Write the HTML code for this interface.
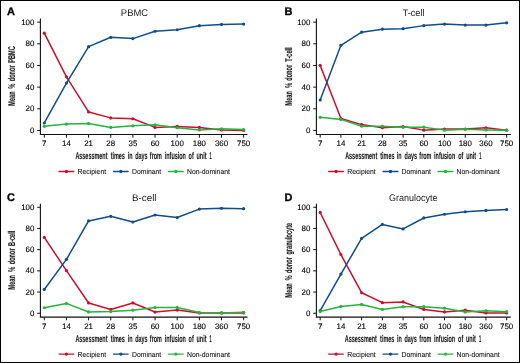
<!DOCTYPE html>
<html><head><meta charset="utf-8"><style>
html,body{margin:0;padding:0;background:#fff;}
body{width:520px;height:363px;overflow:hidden;}
svg{display:block;will-change:transform;}
text{font-family:"Liberation Sans",sans-serif;fill:#1a1a1a;text-rendering:geometricPrecision;}
.lt{font-weight:bold;font-size:11px;fill:#000;stroke:#000;stroke-width:0.3px;}
.ti{font-size:9.6px;}
.tl{font-size:7.9px;fill:#000;stroke:#000;stroke-width:0.12px;}
.at{font-size:9.8px;font-weight:bold;stroke:#1a1a1a;stroke-width:0.12px;}
.lg{font-size:7.3px;fill:#111;stroke:#111;stroke-width:0.08px;}
.ax{fill:none;stroke:#111;stroke-width:1.1;}
.tk{fill:none;stroke:#111;stroke-width:1;}
</style></head><body>
<svg width="520" height="363" viewBox="0 0 520 363">
<rect x="0.5" y="0.5" width="519" height="362" fill="#fff" stroke="#000" stroke-width="1"/>
<text x="7" y="15" class="lt">A</text>
<text x="134.5" y="15.65" class="ti" text-anchor="middle" textLength="27.3" lengthAdjust="spacingAndGlyphs">PBMC</text>
<path d="M40.4 18.4V134.5H247.5" class="ax"/>
<path d="M37.2 130.45H40.4" class="tk"/>
<text x="34.3" y="132.95" class="tl" text-anchor="end">0</text>
<path d="M37.2 108.79H40.4" class="tk"/>
<text x="34.3" y="111.29" class="tl" text-anchor="end">20</text>
<path d="M37.2 87.13H40.4" class="tk"/>
<text x="34.3" y="89.63" class="tl" text-anchor="end">40</text>
<path d="M37.2 65.47H40.4" class="tk"/>
<text x="34.3" y="67.97" class="tl" text-anchor="end">60</text>
<path d="M37.2 43.81H40.4" class="tk"/>
<text x="34.3" y="46.31" class="tl" text-anchor="end">80</text>
<path d="M37.2 22.15H40.4" class="tk"/>
<text x="34.3" y="24.65" class="tl" text-anchor="end">100</text>
<path d="M44.3 134.5V137.7" class="tk"/>
<text x="44.3" y="146.2" class="tl" text-anchor="middle">7</text>
<path d="M66.45 134.5V137.7" class="tk"/>
<text x="66.45" y="146.2" class="tl" text-anchor="middle">14</text>
<path d="M88.6 134.5V137.7" class="tk"/>
<text x="88.6" y="146.2" class="tl" text-anchor="middle">21</text>
<path d="M110.75 134.5V137.7" class="tk"/>
<text x="110.75" y="146.2" class="tl" text-anchor="middle">28</text>
<path d="M132.9 134.5V137.7" class="tk"/>
<text x="132.9" y="146.2" class="tl" text-anchor="middle">35</text>
<path d="M155.05 134.5V137.7" class="tk"/>
<text x="155.05" y="146.2" class="tl" text-anchor="middle">60</text>
<path d="M177.2 134.5V137.7" class="tk"/>
<text x="177.2" y="146.2" class="tl" text-anchor="middle">100</text>
<path d="M199.35 134.5V137.7" class="tk"/>
<text x="199.35" y="146.2" class="tl" text-anchor="middle">180</text>
<path d="M221.5 134.5V137.7" class="tk"/>
<text x="221.5" y="146.2" class="tl" text-anchor="middle">360</text>
<path d="M243.65 134.5V137.7" class="tk"/>
<text x="243.65" y="146.2" class="tl" text-anchor="middle">750</text>
<text x="91.43" y="159.1" class="at" text-anchor="middle" textLength="32.05" lengthAdjust="spacingAndGlyphs">Assessment</text>
<text x="117.77" y="159.1" class="at" text-anchor="middle" textLength="14.21" lengthAdjust="spacingAndGlyphs">times</text>
<text x="130.07" y="159.1" class="at" text-anchor="middle" textLength="4.83" lengthAdjust="spacingAndGlyphs">in</text>
<text x="141.41" y="159.1" class="at" text-anchor="middle" textLength="12.4" lengthAdjust="spacingAndGlyphs">days</text>
<text x="155.9" y="159.1" class="at" text-anchor="middle" textLength="12.09" lengthAdjust="spacingAndGlyphs">from</text>
<text x="175.33" y="159.1" class="at" text-anchor="middle" textLength="21.15" lengthAdjust="spacingAndGlyphs">infusion</text>
<text x="191.17" y="159.1" class="at" text-anchor="middle" textLength="5.13" lengthAdjust="spacingAndGlyphs">of</text>
<text x="201.5" y="159.1" class="at" text-anchor="middle" textLength="9.97" lengthAdjust="spacingAndGlyphs">unit</text>
<text x="210.71" y="159.1" class="at" text-anchor="middle" textLength="2.18" lengthAdjust="spacingAndGlyphs">1</text>
<text transform="translate(15 98.55) rotate(-90)" class="at" text-anchor="middle" textLength="14.28" lengthAdjust="spacingAndGlyphs">Mean</text>
<text transform="translate(15 85.94) rotate(-90)" class="at" text-anchor="middle" textLength="4.97" lengthAdjust="spacingAndGlyphs">%</text>
<text transform="translate(15 73.36) rotate(-90)" class="at" text-anchor="middle" textLength="15.82" lengthAdjust="spacingAndGlyphs">donor</text>
<text transform="translate(15 54.5) rotate(-90)" class="at" text-anchor="middle" textLength="16.45" lengthAdjust="spacingAndGlyphs">PBMC</text>
<polyline points="44.3,33.2 66.45,76.84 88.6,111.93 110.75,117.89 132.9,118.75 155.05,127.42 177.2,126.44 199.35,127.42 221.5,130.02 243.65,130.45" fill="none" stroke="#c8102e" stroke-width="1.5" stroke-linejoin="round"/>
<circle cx="44.3" cy="33.2" r="1.6" fill="#c8102e"/>
<circle cx="66.45" cy="76.84" r="1.6" fill="#c8102e"/>
<circle cx="88.6" cy="111.93" r="1.6" fill="#c8102e"/>
<circle cx="110.75" cy="117.89" r="1.6" fill="#c8102e"/>
<circle cx="132.9" cy="118.75" r="1.6" fill="#c8102e"/>
<circle cx="155.05" cy="127.42" r="1.6" fill="#c8102e"/>
<circle cx="177.2" cy="126.44" r="1.6" fill="#c8102e"/>
<circle cx="199.35" cy="127.42" r="1.6" fill="#c8102e"/>
<circle cx="221.5" cy="130.02" r="1.6" fill="#c8102e"/>
<circle cx="243.65" cy="130.45" r="1.6" fill="#c8102e"/>
<polyline points="44.3,122.98 66.45,83.12 88.6,46.63 110.75,37.31 132.9,38.61 155.05,31.25 177.2,29.73 199.35,25.72 221.5,24.42 243.65,24.1" fill="none" stroke="#114d86" stroke-width="1.5" stroke-linejoin="round"/>
<circle cx="44.3" cy="122.98" r="1.6" fill="#114d86"/>
<circle cx="66.45" cy="83.12" r="1.6" fill="#114d86"/>
<circle cx="88.6" cy="46.63" r="1.6" fill="#114d86"/>
<circle cx="110.75" cy="37.31" r="1.6" fill="#114d86"/>
<circle cx="132.9" cy="38.61" r="1.6" fill="#114d86"/>
<circle cx="155.05" cy="31.25" r="1.6" fill="#114d86"/>
<circle cx="177.2" cy="29.73" r="1.6" fill="#114d86"/>
<circle cx="199.35" cy="25.72" r="1.6" fill="#114d86"/>
<circle cx="221.5" cy="24.42" r="1.6" fill="#114d86"/>
<circle cx="243.65" cy="24.1" r="1.6" fill="#114d86"/>
<polyline points="44.3,126.33 66.45,124.06 88.6,123.52 110.75,127.42 132.9,125.79 155.05,124.82 177.2,127.74 199.35,130.02 221.5,128.83 243.65,129.48" fill="none" stroke="#28b23e" stroke-width="1.5" stroke-linejoin="round"/>
<circle cx="44.3" cy="126.33" r="1.6" fill="#28b23e"/>
<circle cx="66.45" cy="124.06" r="1.6" fill="#28b23e"/>
<circle cx="88.6" cy="123.52" r="1.6" fill="#28b23e"/>
<circle cx="110.75" cy="127.42" r="1.6" fill="#28b23e"/>
<circle cx="132.9" cy="125.79" r="1.6" fill="#28b23e"/>
<circle cx="155.05" cy="124.82" r="1.6" fill="#28b23e"/>
<circle cx="177.2" cy="127.74" r="1.6" fill="#28b23e"/>
<circle cx="199.35" cy="130.02" r="1.6" fill="#28b23e"/>
<circle cx="221.5" cy="128.83" r="1.6" fill="#28b23e"/>
<circle cx="243.65" cy="129.48" r="1.6" fill="#28b23e"/>
<path d="M59.05 171.5H73.8" stroke="#c8102e" stroke-width="1.35" stroke-linecap="round"/>
<circle cx="66.45" cy="171.5" r="1.65" fill="#c8102e"/>
<text x="77.55" y="174.2" class="lg" textLength="28.56" lengthAdjust="spacingAndGlyphs">Recipient</text>
<path d="M113.45 171.5H128.2" stroke="#114d86" stroke-width="1.35" stroke-linecap="round"/>
<circle cx="120.85" cy="171.5" r="1.65" fill="#114d86"/>
<text x="131.95" y="174.2" class="lg" textLength="29.31" lengthAdjust="spacingAndGlyphs">Dominant</text>
<path d="M168.45 171.5H183.2" stroke="#28b23e" stroke-width="1.35" stroke-linecap="round"/>
<circle cx="175.85" cy="171.5" r="1.65" fill="#28b23e"/>
<text x="186.95" y="174.2" class="lg" textLength="43.02" lengthAdjust="spacingAndGlyphs">Non-dominant</text>
<text x="284.6" y="15" class="lt">B</text>
<text x="413.6" y="15.65" class="ti" text-anchor="middle" textLength="21.9" lengthAdjust="spacingAndGlyphs">T-cell</text>
<path d="M316.4 18.4V134.5H510.8" class="ax"/>
<path d="M313.2 130.45H316.4" class="tk"/>
<text x="310.3" y="132.95" class="tl" text-anchor="end">0</text>
<path d="M313.2 108.79H316.4" class="tk"/>
<text x="310.3" y="111.29" class="tl" text-anchor="end">20</text>
<path d="M313.2 87.13H316.4" class="tk"/>
<text x="310.3" y="89.63" class="tl" text-anchor="end">40</text>
<path d="M313.2 65.47H316.4" class="tk"/>
<text x="310.3" y="67.97" class="tl" text-anchor="end">60</text>
<path d="M313.2 43.81H316.4" class="tk"/>
<text x="310.3" y="46.31" class="tl" text-anchor="end">80</text>
<path d="M313.2 22.15H316.4" class="tk"/>
<text x="310.3" y="24.65" class="tl" text-anchor="end">100</text>
<path d="M320.2 134.5V137.7" class="tk"/>
<text x="320.2" y="146.2" class="tl" text-anchor="middle">7</text>
<path d="M340.92 134.5V137.7" class="tk"/>
<text x="340.92" y="146.2" class="tl" text-anchor="middle">14</text>
<path d="M361.64 134.5V137.7" class="tk"/>
<text x="361.64" y="146.2" class="tl" text-anchor="middle">21</text>
<path d="M382.36 134.5V137.7" class="tk"/>
<text x="382.36" y="146.2" class="tl" text-anchor="middle">28</text>
<path d="M403.08 134.5V137.7" class="tk"/>
<text x="403.08" y="146.2" class="tl" text-anchor="middle">35</text>
<path d="M423.8 134.5V137.7" class="tk"/>
<text x="423.8" y="146.2" class="tl" text-anchor="middle">60</text>
<path d="M444.52 134.5V137.7" class="tk"/>
<text x="444.52" y="146.2" class="tl" text-anchor="middle">100</text>
<path d="M465.24 134.5V137.7" class="tk"/>
<text x="465.24" y="146.2" class="tl" text-anchor="middle">180</text>
<path d="M485.96 134.5V137.7" class="tk"/>
<text x="485.96" y="146.2" class="tl" text-anchor="middle">360</text>
<path d="M506.68 134.5V137.7" class="tk"/>
<text x="506.68" y="146.2" class="tl" text-anchor="middle">750</text>
<text x="361.19" y="159.1" class="at" text-anchor="middle" textLength="32.05" lengthAdjust="spacingAndGlyphs">Assessment</text>
<text x="387.38" y="159.1" class="at" text-anchor="middle" textLength="14.21" lengthAdjust="spacingAndGlyphs">times</text>
<text x="399.16" y="159.1" class="at" text-anchor="middle" textLength="4.83" lengthAdjust="spacingAndGlyphs">in</text>
<text x="410.82" y="159.1" class="at" text-anchor="middle" textLength="12.4" lengthAdjust="spacingAndGlyphs">days</text>
<text x="425.41" y="159.1" class="at" text-anchor="middle" textLength="12.09" lengthAdjust="spacingAndGlyphs">from</text>
<text x="444.69" y="159.1" class="at" text-anchor="middle" textLength="21.15" lengthAdjust="spacingAndGlyphs">infusion</text>
<text x="460.78" y="159.1" class="at" text-anchor="middle" textLength="5.13" lengthAdjust="spacingAndGlyphs">of</text>
<text x="471.16" y="159.1" class="at" text-anchor="middle" textLength="9.97" lengthAdjust="spacingAndGlyphs">unit</text>
<text x="480.24" y="159.1" class="at" text-anchor="middle" textLength="2.18" lengthAdjust="spacingAndGlyphs">1</text>
<text transform="translate(291.5 98.27) rotate(-90)" class="at" text-anchor="middle" textLength="14.28" lengthAdjust="spacingAndGlyphs">Mean</text>
<text transform="translate(291.5 85.33) rotate(-90)" class="at" text-anchor="middle" textLength="4.97" lengthAdjust="spacingAndGlyphs">%</text>
<text transform="translate(291.5 72.82) rotate(-90)" class="at" text-anchor="middle" textLength="15.82" lengthAdjust="spacingAndGlyphs">donor</text>
<text transform="translate(291.5 54.54) rotate(-90)" class="at" text-anchor="middle" textLength="14.28" lengthAdjust="spacingAndGlyphs">T-cell</text>
<polyline points="320.2,65.36 340.92,118.54 361.64,124.6 382.36,127.74 403.08,126.55 423.8,130.13 444.52,129.04 465.24,129.04 485.96,127.85 506.68,130.13" fill="none" stroke="#c8102e" stroke-width="1.5" stroke-linejoin="round"/>
<circle cx="320.2" cy="65.36" r="1.6" fill="#c8102e"/>
<circle cx="340.92" cy="118.54" r="1.6" fill="#c8102e"/>
<circle cx="361.64" cy="124.6" r="1.6" fill="#c8102e"/>
<circle cx="382.36" cy="127.74" r="1.6" fill="#c8102e"/>
<circle cx="403.08" cy="126.55" r="1.6" fill="#c8102e"/>
<circle cx="423.8" cy="130.13" r="1.6" fill="#c8102e"/>
<circle cx="444.52" cy="129.04" r="1.6" fill="#c8102e"/>
<circle cx="465.24" cy="129.04" r="1.6" fill="#c8102e"/>
<circle cx="485.96" cy="127.85" r="1.6" fill="#c8102e"/>
<circle cx="506.68" cy="130.13" r="1.6" fill="#c8102e"/>
<polyline points="320.2,100.02 340.92,45.33 361.64,32.22 382.36,29.19 403.08,28.65 423.8,25.62 444.52,24.1 465.24,25.07 485.96,25.07 506.68,22.8" fill="none" stroke="#114d86" stroke-width="1.5" stroke-linejoin="round"/>
<circle cx="320.2" cy="100.02" r="1.6" fill="#114d86"/>
<circle cx="340.92" cy="45.33" r="1.6" fill="#114d86"/>
<circle cx="361.64" cy="32.22" r="1.6" fill="#114d86"/>
<circle cx="382.36" cy="29.19" r="1.6" fill="#114d86"/>
<circle cx="403.08" cy="28.65" r="1.6" fill="#114d86"/>
<circle cx="423.8" cy="25.62" r="1.6" fill="#114d86"/>
<circle cx="444.52" cy="24.1" r="1.6" fill="#114d86"/>
<circle cx="465.24" cy="25.07" r="1.6" fill="#114d86"/>
<circle cx="485.96" cy="25.07" r="1.6" fill="#114d86"/>
<circle cx="506.68" cy="22.8" r="1.6" fill="#114d86"/>
<polyline points="320.2,117.35 340.92,119.4 361.64,126.23 382.36,126.23 403.08,127.31 423.8,127.2 444.52,130.13 465.24,129.37 485.96,129.91 506.68,130.13" fill="none" stroke="#28b23e" stroke-width="1.5" stroke-linejoin="round"/>
<circle cx="320.2" cy="117.35" r="1.6" fill="#28b23e"/>
<circle cx="340.92" cy="119.4" r="1.6" fill="#28b23e"/>
<circle cx="361.64" cy="126.23" r="1.6" fill="#28b23e"/>
<circle cx="382.36" cy="126.23" r="1.6" fill="#28b23e"/>
<circle cx="403.08" cy="127.31" r="1.6" fill="#28b23e"/>
<circle cx="423.8" cy="127.2" r="1.6" fill="#28b23e"/>
<circle cx="444.52" cy="130.13" r="1.6" fill="#28b23e"/>
<circle cx="465.24" cy="129.37" r="1.6" fill="#28b23e"/>
<circle cx="485.96" cy="129.91" r="1.6" fill="#28b23e"/>
<circle cx="506.68" cy="130.13" r="1.6" fill="#28b23e"/>
<path d="M328.7 171.5H343.45" stroke="#c8102e" stroke-width="1.35" stroke-linecap="round"/>
<circle cx="336.1" cy="171.5" r="1.65" fill="#c8102e"/>
<text x="347.2" y="174.2" class="lg" textLength="28.56" lengthAdjust="spacingAndGlyphs">Recipient</text>
<path d="M383.1 171.5H397.85" stroke="#114d86" stroke-width="1.35" stroke-linecap="round"/>
<circle cx="390.5" cy="171.5" r="1.65" fill="#114d86"/>
<text x="401.6" y="174.2" class="lg" textLength="29.31" lengthAdjust="spacingAndGlyphs">Dominant</text>
<path d="M438.1 171.5H452.85" stroke="#28b23e" stroke-width="1.35" stroke-linecap="round"/>
<circle cx="445.5" cy="171.5" r="1.65" fill="#28b23e"/>
<text x="456.6" y="174.2" class="lg" textLength="43.02" lengthAdjust="spacingAndGlyphs">Non-dominant</text>
<text x="7" y="200.7" class="lt">C</text>
<text x="144.3" y="200.75" class="ti" text-anchor="middle" textLength="24.5" lengthAdjust="spacingAndGlyphs">B-cell</text>
<path d="M40.4 203.8V317.1H247.5" class="ax"/>
<path d="M37.2 313.25H40.4" class="tk"/>
<text x="34.3" y="315.75" class="tl" text-anchor="end">0</text>
<path d="M37.2 292.05H40.4" class="tk"/>
<text x="34.3" y="294.55" class="tl" text-anchor="end">20</text>
<path d="M37.2 270.85H40.4" class="tk"/>
<text x="34.3" y="273.35" class="tl" text-anchor="end">40</text>
<path d="M37.2 249.65H40.4" class="tk"/>
<text x="34.3" y="252.15" class="tl" text-anchor="end">60</text>
<path d="M37.2 228.45H40.4" class="tk"/>
<text x="34.3" y="230.95" class="tl" text-anchor="end">80</text>
<path d="M37.2 207.25H40.4" class="tk"/>
<text x="34.3" y="209.75" class="tl" text-anchor="end">100</text>
<path d="M44.3 317.1V320.3" class="tk"/>
<text x="44.3" y="328.8" class="tl" text-anchor="middle">7</text>
<path d="M66.45 317.1V320.3" class="tk"/>
<text x="66.45" y="328.8" class="tl" text-anchor="middle">14</text>
<path d="M88.6 317.1V320.3" class="tk"/>
<text x="88.6" y="328.8" class="tl" text-anchor="middle">21</text>
<path d="M110.75 317.1V320.3" class="tk"/>
<text x="110.75" y="328.8" class="tl" text-anchor="middle">28</text>
<path d="M132.9 317.1V320.3" class="tk"/>
<text x="132.9" y="328.8" class="tl" text-anchor="middle">35</text>
<path d="M155.05 317.1V320.3" class="tk"/>
<text x="155.05" y="328.8" class="tl" text-anchor="middle">60</text>
<path d="M177.2 317.1V320.3" class="tk"/>
<text x="177.2" y="328.8" class="tl" text-anchor="middle">100</text>
<path d="M199.35 317.1V320.3" class="tk"/>
<text x="199.35" y="328.8" class="tl" text-anchor="middle">180</text>
<path d="M221.5 317.1V320.3" class="tk"/>
<text x="221.5" y="328.8" class="tl" text-anchor="middle">360</text>
<path d="M243.65 317.1V320.3" class="tk"/>
<text x="243.65" y="328.8" class="tl" text-anchor="middle">750</text>
<text x="91.43" y="341.7" class="at" text-anchor="middle" textLength="32.05" lengthAdjust="spacingAndGlyphs">Assessment</text>
<text x="117.77" y="341.7" class="at" text-anchor="middle" textLength="14.21" lengthAdjust="spacingAndGlyphs">times</text>
<text x="130.07" y="341.7" class="at" text-anchor="middle" textLength="4.83" lengthAdjust="spacingAndGlyphs">in</text>
<text x="141.41" y="341.7" class="at" text-anchor="middle" textLength="12.4" lengthAdjust="spacingAndGlyphs">days</text>
<text x="155.9" y="341.7" class="at" text-anchor="middle" textLength="12.09" lengthAdjust="spacingAndGlyphs">from</text>
<text x="175.33" y="341.7" class="at" text-anchor="middle" textLength="21.15" lengthAdjust="spacingAndGlyphs">infusion</text>
<text x="191.17" y="341.7" class="at" text-anchor="middle" textLength="5.13" lengthAdjust="spacingAndGlyphs">of</text>
<text x="201.5" y="341.7" class="at" text-anchor="middle" textLength="9.97" lengthAdjust="spacingAndGlyphs">unit</text>
<text x="210.71" y="341.7" class="at" text-anchor="middle" textLength="2.18" lengthAdjust="spacingAndGlyphs">1</text>
<text transform="translate(15 282.26) rotate(-90)" class="at" text-anchor="middle" textLength="14.28" lengthAdjust="spacingAndGlyphs">Mean</text>
<text transform="translate(15 269.31) rotate(-90)" class="at" text-anchor="middle" textLength="4.97" lengthAdjust="spacingAndGlyphs">%</text>
<text transform="translate(15 256.36) rotate(-90)" class="at" text-anchor="middle" textLength="15.82" lengthAdjust="spacingAndGlyphs">donor</text>
<text transform="translate(15 238.28) rotate(-90)" class="at" text-anchor="middle" textLength="15.21" lengthAdjust="spacingAndGlyphs">B-cell</text>
<polyline points="44.3,237.4 66.45,270.55 88.6,302.97 110.75,309.42 132.9,302.97 155.05,312.06 177.2,310.05 199.35,312.9 221.5,312.9 243.65,312.9" fill="none" stroke="#c8102e" stroke-width="1.5" stroke-linejoin="round"/>
<circle cx="44.3" cy="237.4" r="1.6" fill="#c8102e"/>
<circle cx="66.45" cy="270.55" r="1.6" fill="#c8102e"/>
<circle cx="88.6" cy="302.97" r="1.6" fill="#c8102e"/>
<circle cx="110.75" cy="309.42" r="1.6" fill="#c8102e"/>
<circle cx="132.9" cy="302.97" r="1.6" fill="#c8102e"/>
<circle cx="155.05" cy="312.06" r="1.6" fill="#c8102e"/>
<circle cx="177.2" cy="310.05" r="1.6" fill="#c8102e"/>
<circle cx="199.35" cy="312.9" r="1.6" fill="#c8102e"/>
<circle cx="221.5" cy="312.9" r="1.6" fill="#c8102e"/>
<circle cx="243.65" cy="312.9" r="1.6" fill="#c8102e"/>
<polyline points="44.3,289.46 66.45,259.36 88.6,220.92 110.75,216.28 132.9,221.98 155.05,215.01 177.2,217.54 199.35,209.1 221.5,208.25 243.65,208.67" fill="none" stroke="#114d86" stroke-width="1.5" stroke-linejoin="round"/>
<circle cx="44.3" cy="289.46" r="1.6" fill="#114d86"/>
<circle cx="66.45" cy="259.36" r="1.6" fill="#114d86"/>
<circle cx="88.6" cy="220.92" r="1.6" fill="#114d86"/>
<circle cx="110.75" cy="216.28" r="1.6" fill="#114d86"/>
<circle cx="132.9" cy="221.98" r="1.6" fill="#114d86"/>
<circle cx="155.05" cy="215.01" r="1.6" fill="#114d86"/>
<circle cx="177.2" cy="217.54" r="1.6" fill="#114d86"/>
<circle cx="199.35" cy="209.1" r="1.6" fill="#114d86"/>
<circle cx="221.5" cy="208.25" r="1.6" fill="#114d86"/>
<circle cx="243.65" cy="208.67" r="1.6" fill="#114d86"/>
<polyline points="44.3,307.73 66.45,303.4 88.6,311.95 110.75,311.53 132.9,310.15 155.05,307.51 177.2,307.41 199.35,312.58 221.5,312.9 243.65,312.37" fill="none" stroke="#28b23e" stroke-width="1.5" stroke-linejoin="round"/>
<circle cx="44.3" cy="307.73" r="1.6" fill="#28b23e"/>
<circle cx="66.45" cy="303.4" r="1.6" fill="#28b23e"/>
<circle cx="88.6" cy="311.95" r="1.6" fill="#28b23e"/>
<circle cx="110.75" cy="311.53" r="1.6" fill="#28b23e"/>
<circle cx="132.9" cy="310.15" r="1.6" fill="#28b23e"/>
<circle cx="155.05" cy="307.51" r="1.6" fill="#28b23e"/>
<circle cx="177.2" cy="307.41" r="1.6" fill="#28b23e"/>
<circle cx="199.35" cy="312.58" r="1.6" fill="#28b23e"/>
<circle cx="221.5" cy="312.9" r="1.6" fill="#28b23e"/>
<circle cx="243.65" cy="312.37" r="1.6" fill="#28b23e"/>
<path d="M59.05 354.1H73.8" stroke="#c8102e" stroke-width="1.35" stroke-linecap="round"/>
<circle cx="66.45" cy="354.1" r="1.65" fill="#c8102e"/>
<text x="77.55" y="356.8" class="lg" textLength="28.56" lengthAdjust="spacingAndGlyphs">Recipient</text>
<path d="M113.45 354.1H128.2" stroke="#114d86" stroke-width="1.35" stroke-linecap="round"/>
<circle cx="120.85" cy="354.1" r="1.65" fill="#114d86"/>
<text x="131.95" y="356.8" class="lg" textLength="29.31" lengthAdjust="spacingAndGlyphs">Dominant</text>
<path d="M168.45 354.1H183.2" stroke="#28b23e" stroke-width="1.35" stroke-linecap="round"/>
<circle cx="175.85" cy="354.1" r="1.65" fill="#28b23e"/>
<text x="186.95" y="356.8" class="lg" textLength="43.02" lengthAdjust="spacingAndGlyphs">Non-dominant</text>
<text x="284.5" y="200.6" class="lt">D</text>
<text x="413.2" y="201.15" class="ti" text-anchor="middle" textLength="48.4" lengthAdjust="spacingAndGlyphs">Granulocyte</text>
<path d="M316.4 203.8V317.1H510.8" class="ax"/>
<path d="M313.2 313.25H316.4" class="tk"/>
<text x="310.3" y="315.75" class="tl" text-anchor="end">0</text>
<path d="M313.2 292.05H316.4" class="tk"/>
<text x="310.3" y="294.55" class="tl" text-anchor="end">20</text>
<path d="M313.2 270.85H316.4" class="tk"/>
<text x="310.3" y="273.35" class="tl" text-anchor="end">40</text>
<path d="M313.2 249.65H316.4" class="tk"/>
<text x="310.3" y="252.15" class="tl" text-anchor="end">60</text>
<path d="M313.2 228.45H316.4" class="tk"/>
<text x="310.3" y="230.95" class="tl" text-anchor="end">80</text>
<path d="M313.2 207.25H316.4" class="tk"/>
<text x="310.3" y="209.75" class="tl" text-anchor="end">100</text>
<path d="M320.2 317.1V320.3" class="tk"/>
<text x="320.2" y="328.8" class="tl" text-anchor="middle">7</text>
<path d="M340.92 317.1V320.3" class="tk"/>
<text x="340.92" y="328.8" class="tl" text-anchor="middle">14</text>
<path d="M361.64 317.1V320.3" class="tk"/>
<text x="361.64" y="328.8" class="tl" text-anchor="middle">21</text>
<path d="M382.36 317.1V320.3" class="tk"/>
<text x="382.36" y="328.8" class="tl" text-anchor="middle">28</text>
<path d="M403.08 317.1V320.3" class="tk"/>
<text x="403.08" y="328.8" class="tl" text-anchor="middle">35</text>
<path d="M423.8 317.1V320.3" class="tk"/>
<text x="423.8" y="328.8" class="tl" text-anchor="middle">60</text>
<path d="M444.52 317.1V320.3" class="tk"/>
<text x="444.52" y="328.8" class="tl" text-anchor="middle">100</text>
<path d="M465.24 317.1V320.3" class="tk"/>
<text x="465.24" y="328.8" class="tl" text-anchor="middle">180</text>
<path d="M485.96 317.1V320.3" class="tk"/>
<text x="485.96" y="328.8" class="tl" text-anchor="middle">360</text>
<path d="M506.68 317.1V320.3" class="tk"/>
<text x="506.68" y="328.8" class="tl" text-anchor="middle">750</text>
<text x="360.88" y="341.7" class="at" text-anchor="middle" textLength="32.05" lengthAdjust="spacingAndGlyphs">Assessment</text>
<text x="387.22" y="341.7" class="at" text-anchor="middle" textLength="14.21" lengthAdjust="spacingAndGlyphs">times</text>
<text x="399.41" y="341.7" class="at" text-anchor="middle" textLength="4.83" lengthAdjust="spacingAndGlyphs">in</text>
<text x="410.64" y="341.7" class="at" text-anchor="middle" textLength="12.4" lengthAdjust="spacingAndGlyphs">days</text>
<text x="425.37" y="341.7" class="at" text-anchor="middle" textLength="12.09" lengthAdjust="spacingAndGlyphs">from</text>
<text x="444.57" y="341.7" class="at" text-anchor="middle" textLength="21.15" lengthAdjust="spacingAndGlyphs">infusion</text>
<text x="460.65" y="341.7" class="at" text-anchor="middle" textLength="5.13" lengthAdjust="spacingAndGlyphs">of</text>
<text x="470.88" y="341.7" class="at" text-anchor="middle" textLength="9.97" lengthAdjust="spacingAndGlyphs">unit</text>
<text x="479.99" y="341.7" class="at" text-anchor="middle" textLength="2.18" lengthAdjust="spacingAndGlyphs">1</text>
<text transform="translate(291.5 290.37) rotate(-90)" class="at" text-anchor="middle" textLength="14.28" lengthAdjust="spacingAndGlyphs">Mean</text>
<text transform="translate(291.5 277.8) rotate(-90)" class="at" text-anchor="middle" textLength="4.97" lengthAdjust="spacingAndGlyphs">%</text>
<text transform="translate(291.5 265.11) rotate(-90)" class="at" text-anchor="middle" textLength="15.82" lengthAdjust="spacingAndGlyphs">donor</text>
<text transform="translate(291.5 238.72) rotate(-90)" class="at" text-anchor="middle" textLength="31.66" lengthAdjust="spacingAndGlyphs">granulocyte</text>
<polyline points="320.2,212.47 340.92,254.61 361.64,292.73 382.36,302.66 403.08,301.92 423.8,309.42 444.52,311.95 465.24,310.15 485.96,312.9 506.68,312.9" fill="none" stroke="#c8102e" stroke-width="1.5" stroke-linejoin="round"/>
<circle cx="320.2" cy="212.47" r="1.6" fill="#c8102e"/>
<circle cx="340.92" cy="254.61" r="1.6" fill="#c8102e"/>
<circle cx="361.64" cy="292.73" r="1.6" fill="#c8102e"/>
<circle cx="382.36" cy="302.66" r="1.6" fill="#c8102e"/>
<circle cx="403.08" cy="301.92" r="1.6" fill="#c8102e"/>
<circle cx="423.8" cy="309.42" r="1.6" fill="#c8102e"/>
<circle cx="444.52" cy="311.95" r="1.6" fill="#c8102e"/>
<circle cx="465.24" cy="310.15" r="1.6" fill="#c8102e"/>
<circle cx="485.96" cy="312.9" r="1.6" fill="#c8102e"/>
<circle cx="506.68" cy="312.9" r="1.6" fill="#c8102e"/>
<polyline points="320.2,310.58 340.92,274.04 361.64,238.35 382.36,224.41 403.08,228.95 423.8,217.97 444.52,214.27 465.24,211.74 485.96,210.47 506.68,209.52" fill="none" stroke="#114d86" stroke-width="1.5" stroke-linejoin="round"/>
<circle cx="320.2" cy="310.58" r="1.6" fill="#114d86"/>
<circle cx="340.92" cy="274.04" r="1.6" fill="#114d86"/>
<circle cx="361.64" cy="238.35" r="1.6" fill="#114d86"/>
<circle cx="382.36" cy="224.41" r="1.6" fill="#114d86"/>
<circle cx="403.08" cy="228.95" r="1.6" fill="#114d86"/>
<circle cx="423.8" cy="217.97" r="1.6" fill="#114d86"/>
<circle cx="444.52" cy="214.27" r="1.6" fill="#114d86"/>
<circle cx="465.24" cy="211.74" r="1.6" fill="#114d86"/>
<circle cx="485.96" cy="210.47" r="1.6" fill="#114d86"/>
<circle cx="506.68" cy="209.52" r="1.6" fill="#114d86"/>
<polyline points="320.2,311.53 340.92,306.46 361.64,304.45 382.36,309.42 403.08,306.67 423.8,306.67 444.52,308.15 465.24,311.95 485.96,310.79 506.68,311.63" fill="none" stroke="#28b23e" stroke-width="1.5" stroke-linejoin="round"/>
<circle cx="320.2" cy="311.53" r="1.6" fill="#28b23e"/>
<circle cx="340.92" cy="306.46" r="1.6" fill="#28b23e"/>
<circle cx="361.64" cy="304.45" r="1.6" fill="#28b23e"/>
<circle cx="382.36" cy="309.42" r="1.6" fill="#28b23e"/>
<circle cx="403.08" cy="306.67" r="1.6" fill="#28b23e"/>
<circle cx="423.8" cy="306.67" r="1.6" fill="#28b23e"/>
<circle cx="444.52" cy="308.15" r="1.6" fill="#28b23e"/>
<circle cx="465.24" cy="311.95" r="1.6" fill="#28b23e"/>
<circle cx="485.96" cy="310.79" r="1.6" fill="#28b23e"/>
<circle cx="506.68" cy="311.63" r="1.6" fill="#28b23e"/>
<path d="M328.7 354.1H343.45" stroke="#c8102e" stroke-width="1.35" stroke-linecap="round"/>
<circle cx="336.1" cy="354.1" r="1.65" fill="#c8102e"/>
<text x="347.2" y="356.8" class="lg" textLength="28.56" lengthAdjust="spacingAndGlyphs">Recipient</text>
<path d="M383.1 354.1H397.85" stroke="#114d86" stroke-width="1.35" stroke-linecap="round"/>
<circle cx="390.5" cy="354.1" r="1.65" fill="#114d86"/>
<text x="401.6" y="356.8" class="lg" textLength="29.31" lengthAdjust="spacingAndGlyphs">Dominant</text>
<path d="M438.1 354.1H452.85" stroke="#28b23e" stroke-width="1.35" stroke-linecap="round"/>
<circle cx="445.5" cy="354.1" r="1.65" fill="#28b23e"/>
<text x="456.6" y="356.8" class="lg" textLength="43.02" lengthAdjust="spacingAndGlyphs">Non-dominant</text>
</svg>
</body></html>
